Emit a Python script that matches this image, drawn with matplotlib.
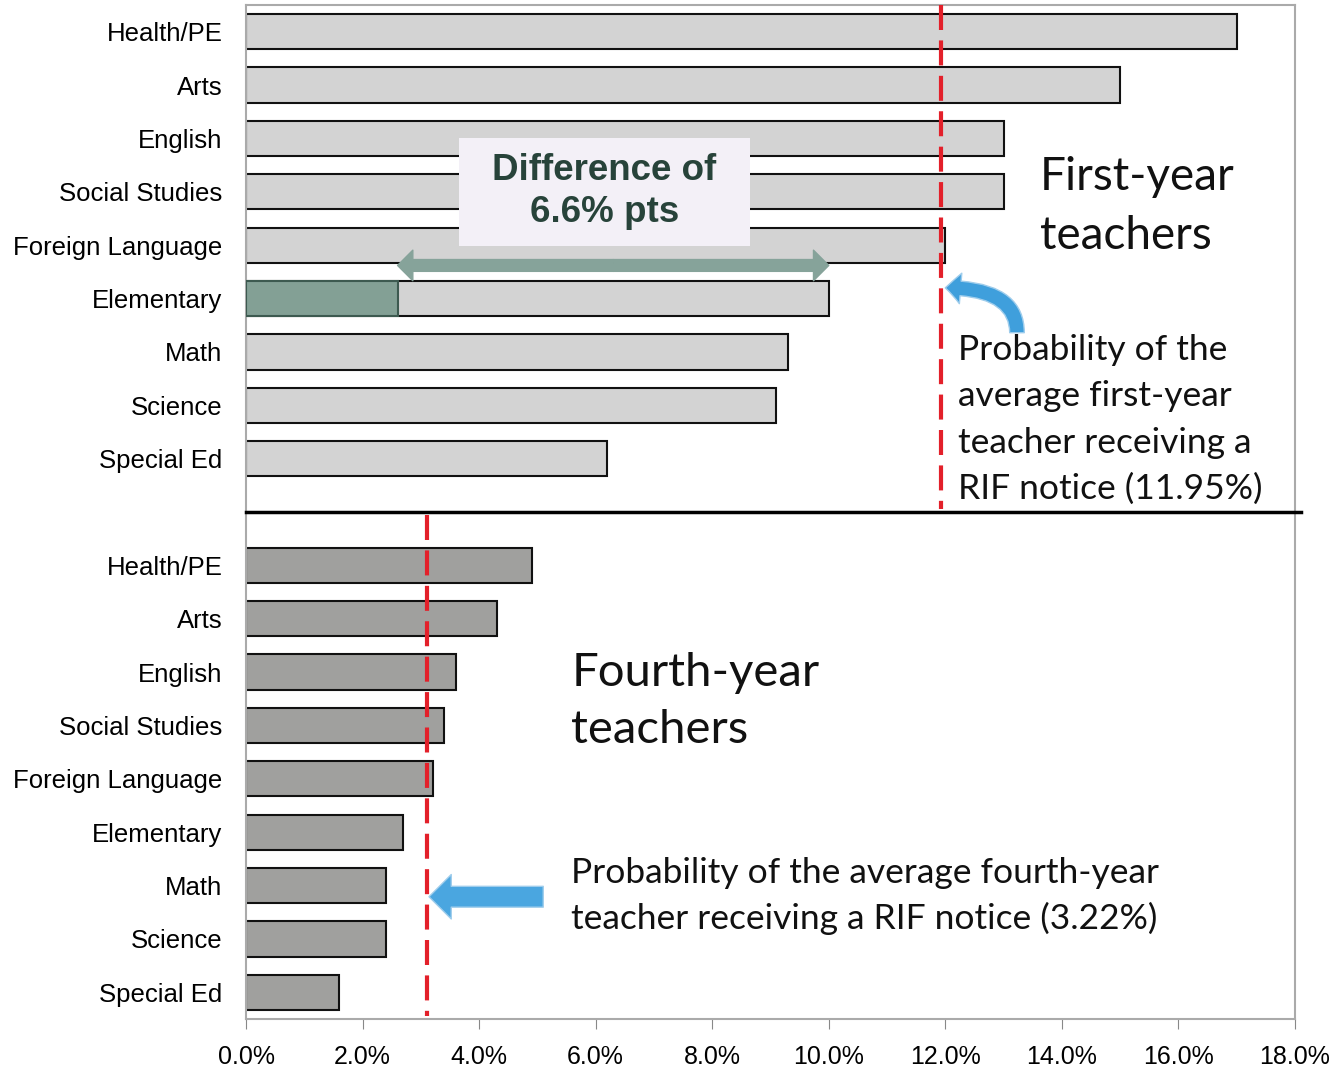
import matplotlib.pyplot as plt
import numpy as np
from matplotlib.patches import Rectangle
from matplotlib.ticker import FuncFormatter

# data
subjects = ['Health/PE', 'Arts', 'English', 'Social Studies', 'Foreign Language',
            'Elementary', 'Math', 'Science', 'Special Ed']
first_year = [17.0, 15.0, 13.0, 13.0, 12.0, 10.0, 9.3, 9.1, 6.2]
fourth_year = [4.9, 4.3, 3.6, 3.4, 3.2, 2.7, 2.4, 2.4, 1.6]
avg_first = 11.92
avg_fourth = 3.1
elem_overlay = 2.6
xticks = np.arange(0, 20, 2)

label_font = 'Liberation Sans'
note_font = 'Lato'

fig = plt.figure(figsize=(13.35, 10.71), dpi=100)
ax = fig.add_axes([0.1843, 0.0486, 0.9700 - 0.1843, 0.9953 - 0.0486])

n = len(subjects)
y_first = np.arange(n)
y_fourth = np.arange(n) + n + 1

ax.barh(y_first, first_year, height=0.66, color='#d3d3d3', edgecolor='#111111', linewidth=1.5, zorder=2)
ax.barh(y_fourth, fourth_year, height=0.66, color='#a0a09e', edgecolor='#111111', linewidth=1.5, zorder=2)
# elementary overlay
ax.barh(y_first[5], elem_overlay, height=0.66, color='#83a095', edgecolor='#3d5a50', linewidth=1.5, zorder=3)

ax.set_ylim(2 * n + 0.5, -0.5)
ax.set_xlim(0, 18)
ax.set_yticks(list(y_first) + list(y_fourth))
ax.set_yticklabels(subjects + subjects, fontsize=18.5, family=label_font)
ax.tick_params(axis='y', length=0, pad=17)
ax.set_xticks(xticks)
ax.xaxis.set_major_formatter(FuncFormatter(lambda v, p: f'{v:.1f}%'))
ax.tick_params(axis='x', length=7, color='#888888', labelsize=18, pad=12)
for lab in ax.get_xticklabels():
    lab.set_family(label_font)
for s in ax.spines.values():
    s.set_color('#aaaaaa')
    s.set_linewidth(1.5)

# average lines
ax.plot([avg_first, avg_first], [-0.5, n - 0.05], color='#e3202a', lw=3, dashes=(6, 2.5), zorder=5)
ax.plot([avg_fourth, avg_fourth], [n + 0.05, 2 * n + 0.45], color='#e3202a', lw=3, dashes=(6, 2.5), zorder=5)

# separator
ax.plot([0, 18.1], [n, n], color='black', lw=2.5, clip_on=False, zorder=6)

# group labels
ax.text(13.62, 3.28, 'First-year\nteachers', fontsize=33, family=note_font, ha='left', va='center',
        linespacing=1.5, color='#111111')
ax.text(5.58, 12.55, 'Fourth-year\nteachers', fontsize=34, family=note_font, ha='left', va='center',
        linespacing=1.45, color='#111111')
ax.text(12.22, 7.27, 'Probability of the\naverage first-year\nteacher receiving a\nRIF notice (11.95%)',
        fontsize=25.5, family=note_font, ha='left', va='center', linespacing=1.55, color='#111111')
ax.text(5.58, 16.2, 'Probability of the average fourth-year\nteacher receiving a RIF notice (3.22%)',
        fontsize=25.5, family=note_font, ha='left', va='center', linespacing=1.48, color='#111111')

# difference box
ax.add_patch(Rectangle((3.65, 1.99), 5.0, 2.02, facecolor='#f3f0f7', edgecolor='none', zorder=4))
ax.text(6.15, 3.0, 'Difference of\n6.6% pts', fontsize=26.5, family=label_font, weight='bold',
        color='#27433a', ha='center', va='center', linespacing=1.25, zorder=5)

# double arrow
mid = (elem_overlay + first_year[5]) / 2
for end in (elem_overlay, first_year[5]):
    ax.annotate('', xy=(end, 4.38), xytext=(mid, 4.38),
                arrowprops=dict(arrowstyle='simple,head_width=2.2,head_length=1.1,tail_width=0.85',
                                color='#86a39a', mutation_scale=10, shrinkA=0, shrinkB=0), zorder=5)

# blue arrows
ax.annotate('', xy=(12.0, 4.8), xytext=(13.23, 5.64),
            arrowprops=dict(arrowstyle='simple,head_width=2.2,head_length=1.1,tail_width=1.05',
                            connectionstyle='angle3,angleA=90,angleB=0',
                            facecolor='#3f9fdc', edgecolor='#9fcdec', lw=1,
                            mutation_scale=10, shrinkA=0, shrinkB=0), zorder=6)
ax.annotate('', xy=(3.14, 16.21), xytext=(5.1, 16.21),
            arrowprops=dict(arrowstyle='simple,head_width=3.2,head_length=1.6,tail_width=1.5',
                            facecolor='#4aa6e0', edgecolor='#9fcdec', lw=1,
                            mutation_scale=10, shrinkA=0, shrinkB=0), zorder=6)

fig.savefig('out.png', dpi=100)
